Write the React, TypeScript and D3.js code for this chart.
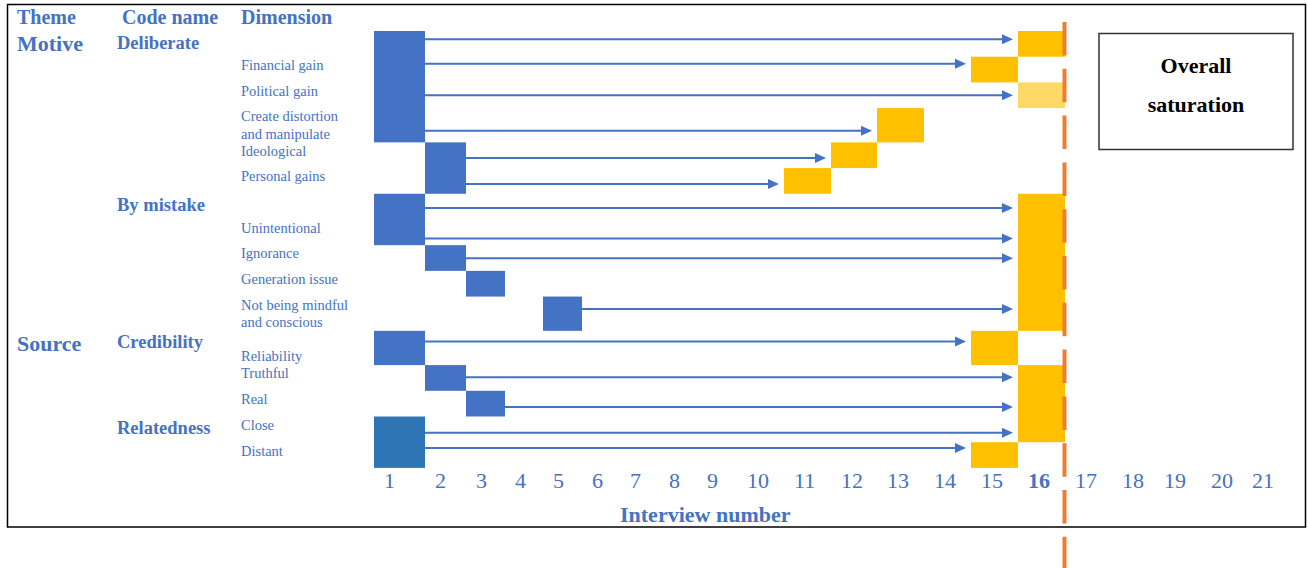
import React from "react";
import * as d3 from "d3";

// ---------- data ----------
const themeLabels = [
  { name: "Motive", row: 0 },
  { name: "Source", row: 11 },
];
const codeLabels = [
  { name: "Deliberate", row: 0 },
  { name: "By mistake", row: 6 },
  { name: "Credibility", row: 11 },
  { name: "Relatedness", row: 14 },
];
const dimensionLabels: string[][] = [
  [],
  ["Financial gain"],
  ["Political gain"],
  ["Create distortion", "and manipulate"],
  ["Ideological"],
  ["Personal gains"],
  [],
  ["Unintentional"],
  ["Ignorance"],
  ["Generation issue"],
  ["Not being mindful", "and conscious"],
  ["", "Reliability"],
  ["Truthful"],
  ["Real"],
  ["Close"],
  ["Distant"],
];
// interview in which the code first appeared (blue)
const firstInterview = [1, 1, 1, 1, 2, 2, 1, 1, 2, 3, 5, 1, 2, 3, 1, 1];
// interview in which the code was saturated (yellow)
const saturationInterview = [16, 15, 16, 13, 12, 11, 16, 16, 16, 16, 16, 15, 16, 16, 16, 15];
const arrowShown = [true, true, true, true, true, true, true, true, true, false, true, true, true, true, true, true];
const provisionalSaturation = [false, false, true, false, false, false, false, false, false, false, false, false, false, false, false, false];
const interviewTicks = d3.range(1, 22);
const overallSaturation = 16;

// ---------- layout ----------
const W = 1308;
const H = 568;
const LEFT = 374;
const TOP = 31;
const ROW_UNIT = 25.7;
const colWidths = [51, 41, 39, 38, 39, 38, 39, 38, 40, 47, 47, 46, 47, 47, 47, 47, 47, 42, 47, 41, 41];
const rowWeights = [1, 1, 1, 4 / 3, 1, 1, 1, 1, 1, 1, 4 / 3, 4 / 3, 1, 1, 1, 1];
// vertical placement of each arrow inside its row (fraction of row height)
const arrowFrac = [0.32, 0.27, 0.5, 0.66, 0.61, 0.62, 0.55, 0.74, 0.51, 0.5, 0.36, 0.31, 0.47, 0.63, 0.63, 0.23];

const BLUE = "#4472C4";
const codeBlockColors = ["#4472C4", "#4472C4", "#4472C4", "#2E75B6"];
const YELLOW = "#FFC000";
const LIGHT_YELLOW = "#FFD966";
const ORANGE = "#ED7D31";
const FONT = "'Liberation Serif', 'Times New Roman', Times, serif";

const colEdges = [0, ...Array.from(d3.cumsum(colWidths))].map((e) => LEFT + e);
const x = d3.scaleLinear().domain(d3.range(0.5, 22, 1)).range(colEdges);
const rowEdges = [0, ...Array.from(d3.cumsum(rowWeights))].map((e) => TOP + e * ROW_UNIT);
const y = d3.scaleLinear().domain(d3.range(0, rowEdges.length)).range(rowEdges);

const nRows = firstInterview.length;
const codeGroup = d3.range(nRows).map((i) => {
  let g = 0;
  codeLabels.forEach((c, k) => {
    if (c.row <= i) g = k;
  });
  return g;
});

type Run = { start: number; end: number; i: number };
function runs(key: (i: number) => string): Run[] {
  const out: Run[] = [];
  d3.range(nRows).forEach((i) => {
    const last = out[out.length - 1];
    if (last && key(last.i) === key(i) && last.end === i) last.end = i + 1;
    else out.push({ start: i, end: i + 1, i });
  });
  return out;
}

const blueRuns = runs((i) => `${firstInterview[i]}-${codeGroup[i]}`);
const yellowRuns = runs((i) => `${saturationInterview[i]}-${provisionalSaturation[i]}`);

export default function App() {
  const dashX = x(overallSaturation + 0.5) - 0.5;
  return (
    <svg
      width={W}
      height={H}
      style={{ position: "absolute", left: 0, top: 0, display: "block", background: "#fff" }}
      fontFamily={FONT}
    >
      <rect x={7.5} y={4.5} width={1298} height={522.5} fill="#fff" stroke="#000" strokeWidth={1.5} />

      {/* headers */}
      <g fill={BLUE} fontWeight="bold" fontSize={20}>
        <text x={17} y={24.3}>Theme</text>
        <text x={122} y={24.3}>Code name</text>
        <text x={241} y={24.3}>Dimension</text>
      </g>
      <g fill={BLUE} fontWeight="bold" fontSize={22}>
        {themeLabels.map((t) => (
          <text key={t.name} x={17} y={y(t.row) + 20}>{t.name}</text>
        ))}
      </g>
      <g fill={BLUE} fontWeight="bold" fontSize={18.5}>
        {codeLabels.map((c) => (
          <text key={c.name} x={117} y={y(c.row) + 17.5}>{c.name}</text>
        ))}
      </g>
      <g fill={BLUE} fontSize={14.5}>
        {dimensionLabels.map((lines, i) =>
          lines.map((l, j) => (
            <text key={`${i}-${j}`} x={241} y={y(i) + 13.3 + j * 17.3}>{l}</text>
          ))
        )}
      </g>

      {/* blue blocks: first appearance */}
      {blueRuns.map((r) => (
        <rect
          key={`b${r.start}`}
          x={x(firstInterview[r.i] - 0.5)}
          y={y(r.start)}
          width={x(firstInterview[r.i] + 0.5) - x(firstInterview[r.i] - 0.5)}
          height={y(r.end) - y(r.start)}
          fill={codeBlockColors[codeGroup[r.i]]}
        />
      ))}

      {/* yellow blocks: saturation */}
      {yellowRuns.map((r) => (
        <rect
          key={`y${r.start}`}
          x={x(saturationInterview[r.i] - 0.5)}
          y={y(r.start)}
          width={x(saturationInterview[r.i] + 0.5) - x(saturationInterview[r.i] - 0.5)}
          height={y(r.end) - y(r.start)}
          fill={provisionalSaturation[r.i] ? LIGHT_YELLOW : YELLOW}
        />
      ))}

      {/* arrows */}
      {d3.range(nRows).filter((i) => arrowShown[i]).map((i) => {
        const x1 = x(firstInterview[i] + 0.5);
        const tip = x(saturationInterview[i] - 0.5) - 5;
        const cy = y(i + arrowFrac[i]);
        return (
          <g key={`a${i}`}>
            <line x1={x1} x2={tip - 9} y1={cy} y2={cy} stroke={BLUE} strokeWidth={2} />
            <path d={`M${tip},${cy} L${tip - 11},${cy - 5} L${tip - 11},${cy + 5} Z`} fill={BLUE} />
          </g>
        );
      })}

      {/* overall saturation line */}
      <line
        x1={dashX}
        x2={dashX}
        y1={22}
        y2={H}
        stroke={ORANGE}
        strokeWidth={4}
        strokeDasharray="33.5 13.3"
      />

      {/* x axis */}
      <g fill={BLUE} fontSize={22}>
        {interviewTicks.map((t) => (
          <text
            key={t}
            x={x(t - 0.5) + 10}
            y={487.7}
            fontWeight={t === overallSaturation ? "bold" : "normal"}
          >
            {t}
          </text>
        ))}
      </g>
      <text x={620} y={522} fill={BLUE} fontWeight="bold" fontSize={22}>
        Interview number
      </text>

      {/* label box */}
      <rect x={1099} y={33.5} width={194} height={116} fill="#fff" stroke="#333" strokeWidth={1.5} />
      <g fill="#000" fontWeight="bold" fontSize={22} textAnchor="middle">
        <text x={1196} y={72.7}>Overall</text>
        <text x={1196} y={111.7}>saturation</text>
      </g>
    </svg>
  );
}
